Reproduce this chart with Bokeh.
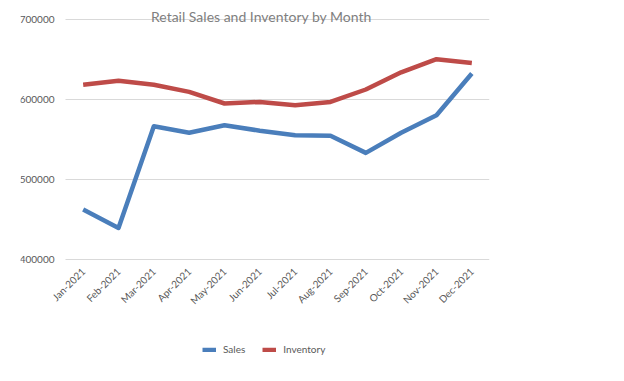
from bokeh.plotting import figure
from bokeh.models import ColumnDataSource, FixedTicker, Label, Legend, LegendItem, NumeralTickFormatter, Range1d
from bokeh.embed import file_html
from bokeh.resources import INLINE
import math

months = ["Jan-2021", "Feb-2021", "Mar-2021", "Apr-2021", "May-2021", "Jun-2021",
          "Jul-2021", "Aug-2021", "Sep-2021", "Oct-2021", "Nov-2021", "Dec-2021"]
sales = [462500, 439500, 566500, 558500, 567800, 561000,
         555400, 554600, 533300, 558500, 580400, 632500]
inventory = [618300, 623300, 618500, 609500, 595000, 597000,
             592900, 597000, 612500, 634000, 650400, 645500]
y_ticks = [400000, 500000, 600000, 700000]
title_text = "Retail Sales and Inventory by Month"

FONT = "Lato"
GRAY = "#595959"

idx = list(range(len(months)))
src = ColumnDataSource(dict(x=idx, m=months, sales=sales, inv=inventory))

slot = 424 / len(months)          # pixel width of one month slot
extra_left = 45                   # extra frame room so labels are not clipped
x_start = -0.5 - extra_left / slot

p = figure(x_range=Range1d(x_start, len(months) - 0.5), y_range=(273750, 717500),
           width=608, height=365, output_backend="svg", toolbar_location=None,
           min_border_left=20, min_border_right=119, min_border_top=5, min_border_bottom=0)
p.frame_width = 424 + extra_left
p.frame_height = 355
p.outline_line_color = None
p.background_fill_color = "white"
p.border_fill_color = "white"

r1 = p.line("x", "sales", source=src, line_color="#4a7ebb", line_width=4.5, line_join="round")
r2 = p.line("x", "inv", source=src, line_color="#be4b48", line_width=4.5, line_join="round")

p.xgrid.grid_line_color = None
p.ygrid.grid_line_color = "#d9d9d9"
p.ygrid.grid_line_width = 1.2
p.ygrid.ticker = FixedTicker(ticks=y_ticks)
p.ygrid.cross_bounds = (-0.5, len(months) - 0.5)

p.yaxis.fixed_location = -0.5
p.yaxis.ticker = FixedTicker(ticks=y_ticks)
p.yaxis.formatter = NumeralTickFormatter(format="0")
p.yaxis.axis_line_color = None
p.yaxis.major_tick_line_color = None
p.yaxis.minor_tick_line_color = None
p.yaxis.major_label_text_font = FONT
p.yaxis.major_label_text_font_size = "10px"
p.yaxis.major_label_text_color = GRAY
p.yaxis.major_label_standoff = 5

p.xaxis.fixed_location = 400000
p.xaxis.ticker = FixedTicker(ticks=idx)
p.xaxis.major_label_overrides = {i: m for i, m in zip(idx, months)}
p.xaxis.axis_line_color = None
p.xaxis.major_tick_line_color = None
p.xaxis.minor_tick_line_color = None
p.xaxis.major_label_orientation = math.pi / 4
p.xaxis.major_label_text_font = FONT
p.xaxis.major_label_text_font_size = "10px"
p.xaxis.major_label_text_color = GRAY
p.xaxis.major_label_standoff = 4

title = Label(x=196 + extra_left, y=344, x_units="screen", y_units="screen", text=title_text,
              text_font=FONT, text_font_size="14px", text_color="#7f7f7f",
              text_align="center", text_baseline="alphabetic")
p.add_layout(title)

legend = Legend(items=[LegendItem(label="Sales", renderers=[r1]),
                       LegendItem(label="Inventory", renderers=[r2])],
                orientation="horizontal", location=(137 + extra_left, 5), margin=0, padding=5,
                label_text_font=FONT, label_text_font_size="10px", label_text_color=GRAY,
                glyph_width=14, glyph_height=5, spacing=17, label_standoff=7,
                border_line_color=None, background_fill_alpha=0)
p.add_layout(legend, "center")

open("out.html", "w").write(file_html(p, INLINE))
